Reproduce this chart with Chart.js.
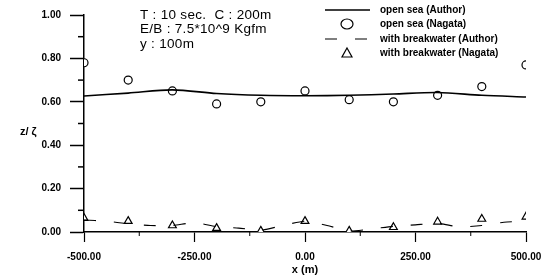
<!DOCTYPE html>
<html>
<head>
<meta charset="utf-8">
<script src="https://cdn.jsdelivr.net/npm/chart.js@4.4.0/dist/chart.umd.min.js"></script>
<style>
    html, body { margin: 0; padding: 0; background: #fff; }
    #wrap { width: 553px; height: 278px; position: relative; }
</style>
</head>
<body>
<div id="wrap"><canvas id="waveChart"></canvas></div>
<script>
// positions along the breakwater (m)
const xNagata = [-500, -400, -300, -200, -100, 0, 100, 200, 300, 400, 500];
const openSeaNagata = [0.78, 0.70, 0.65, 0.59, 0.60, 0.65, 0.61, 0.60, 0.63, 0.67, 0.77];
const breakwaterNagata = [0.064, 0.05, 0.03, 0.018, 0.005, 0.05, 0.005, 0.022, 0.047, 0.06, 0.07];

const xAuthor = [-500, -400, -300, -200, -100, 0, 100, 200, 300, 400, 500];
const openSeaAuthor = [0.627, 0.64, 0.655, 0.638, 0.63, 0.628, 0.63, 0.636, 0.643, 0.63, 0.622];

const xAuthorBw = [-500, -450, -400, -350, -300, -250, -200, -150, -100, -50, 0, 50, 100, 150, 200, 250, 300, 350, 400, 450, 500];
const breakwaterAuthor = [0.055, 0.05, 0.038, 0.03, 0.03, 0.043, 0.025, 0.018, 0.008, 0.03, 0.05, 0.03, 0.005, 0.014, 0.026, 0.033, 0.04, 0.023, 0.03, 0.045, 0.05];

const xTicks = [-500, -250, 0, 250, 500];
const yTicks = [0, 0.2, 0.4, 0.6, 0.8, 1.0];

const infoLines = ["T : 10 sec.  C : 200m", "E/B : 7.5*10^9 Kgfm", "y : 100m"];

function pairs(xs, ys) {
    return xs.map((x, i) => ({ x: x, y: ys[i] }));
}

const FONT = "Liberation Sans, Arial, sans-serif";

// minor ticks, legend, info text, y title
const extrasPlugin = {
    id: "extras",
    afterDraw(chart) {
        const ctx = chart.ctx;
        const xs = chart.scales.x;
        const ys = chart.scales.y;
        ctx.save();
        ctx.strokeStyle = "#000";
        ctx.lineWidth = 1.5;
        // minor y ticks
        [0.1, 0.3, 0.5, 0.7, 0.9].forEach(v => {
            const py = ys.getPixelForValue(v);
            ctx.beginPath();
            ctx.moveTo(xs.left - 6, py);
            ctx.lineTo(xs.left, py);
            ctx.stroke();
        });
        // minor x ticks
        ctx.lineWidth = 1;
        [-375, -125, 125, 375].forEach(v => {
            const px = xs.getPixelForValue(v);
            ctx.beginPath();
            ctx.moveTo(px, ys.bottom);
            ctx.lineTo(px, ys.bottom + 4);
            ctx.stroke();
        });

        // info text
        ctx.fillStyle = "#000";
        ctx.font = "13.5px " + FONT;
        ctx.letterSpacing = "0.3px";
        ctx.textBaseline = "middle";
        ctx.textAlign = "left";
        infoLines.forEach((t, i) => ctx.fillText(t, 140, 15 + i * 14.5));
        ctx.letterSpacing = "0px";

        // y title
        ctx.font = "bold 11px " + FONT;
        ctx.fillText("z/ ζ", 20, 132);

        // legend
        const rows = [10, 24, 39, 53];
        chart.data.datasets.forEach((ds, i) => {
            const y = rows[i];
            if (ds.showLine) {
                ctx.beginPath();
                ctx.setLineDash(ds.borderDash || []);
                ctx.lineWidth = ds.borderWidth;
                ctx.moveTo(325, y);
                ctx.lineTo(370, y);
                ctx.stroke();
                ctx.setLineDash([]);
            } else {
                ctx.lineWidth = 1.2;
                ctx.beginPath();
                if (ds.pointStyle === "triangle") {
                    ctx.moveTo(347, y - 5);
                    ctx.lineTo(352, y + 4);
                    ctx.lineTo(342, y + 4);
                    ctx.closePath();
                } else {
                    ctx.ellipse(347, y, 6, 5, 0, 0, Math.PI * 2);
                }
                ctx.stroke();
            }
            ctx.font = "bold 10px " + FONT;
            ctx.fillText(ds.label, 380, y);
        });
        ctx.restore();
    }
};

new Chart(document.getElementById("waveChart"), {
    type: "scatter",
    data: {
        datasets: [
            {
                label: "open sea (Author)",
                data: pairs(xAuthor, openSeaAuthor),
                showLine: true,
                borderColor: "#000",
                borderWidth: 1.6,
                pointRadius: 0,
                tension: 0.3
            },
            {
                label: "open sea (Nagata)",
                data: pairs(xNagata, openSeaNagata),
                showLine: false,
                pointStyle: "circle",
                pointRadius: 4,
                borderColor: "#000",
                backgroundColor: "#fff",
                borderWidth: 1.2
            },
            {
                label: "with breakwater (Author)",
                data: pairs(xAuthorBw, breakwaterAuthor),
                showLine: true,
                borderColor: "#000",
                borderWidth: 1.1,
                borderDash: [12, 18],
                pointRadius: 0,
                tension: 0.2
            },
            {
                label: "with breakwater (Nagata)",
                data: pairs(xNagata, breakwaterNagata),
                showLine: false,
                pointStyle: "triangle",
                pointRadius: 4.5,
                borderColor: "#000",
                backgroundColor: "#fff",
                borderWidth: 1.2
            }
        ]
    },
    options: {
        responsive: true,
        maintainAspectRatio: false,
        animation: false,
        layout: { padding: { top: 14, right: 27, left: 0, bottom: 0 } },
        plugins: {
            legend: { display: false },
            tooltip: { enabled: false }
        },
        scales: {
            x: {
                type: "linear",
                min: -500,
                max: 500,
                afterBuildTicks: axis => { axis.ticks = xTicks.map(v => ({ value: v })); },
                afterFit: axis => { axis.height = 46; },
                grid: { drawOnChartArea: false, tickLength: 10, tickWidth: 1.2, tickColor: "#000" },
                border: { display: true, color: "#000", width: 1.5 },
                ticks: {
                    color: "#000",
                    padding: 9,
                    maxRotation: 0,
                    font: { family: FONT, size: 10, weight: "bold" },
                    callback: v => v.toFixed(2)
                },
                title: {
                    display: true,
                    text: "x (m)",
                    color: "#000",
                    padding: { top: 0, bottom: 1 },
                    font: { family: FONT, size: 11, weight: "bold" }
                }
            },
            y: {
                min: 0,
                max: 1,
                afterBuildTicks: axis => { axis.ticks = yTicks.map(v => ({ value: v })); },
                afterFit: axis => { axis.width = 84; },
                grid: { drawOnChartArea: false, tickLength: 14, tickWidth: 1.5, tickColor: "#000" },
                border: { display: true, color: "#000", width: 1.5 },
                ticks: {
                    color: "#000",
                    padding: 9,
                    font: { family: FONT, size: 10, weight: "bold" },
                    callback: v => v.toFixed(2)
                }
            }
        }
    },
    plugins: [extrasPlugin]
});
</script>
</body>
</html>
